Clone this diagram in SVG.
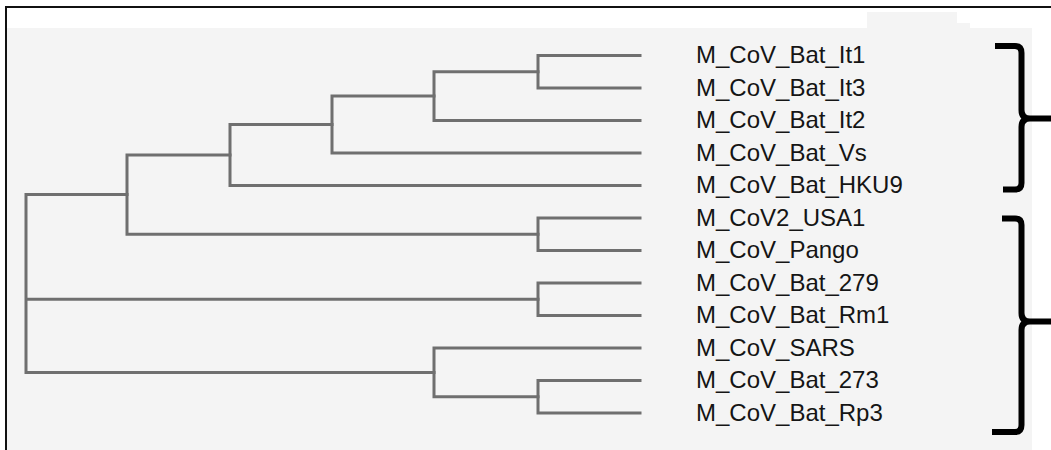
<svg xmlns="http://www.w3.org/2000/svg" width="1051" height="450" viewBox="0 0 1051 450">
  <style>
    .br { fill: none; stroke: #6f6f6f; stroke-width: 3; stroke-linecap: square; }
    .lbl { font-family: "Liberation Sans", Arial, sans-serif; font-size: 24px; fill: #151515; }
    .brace { fill: none; stroke: #000; stroke-width: 6; stroke-linejoin: round; }
  </style>
  <rect x="0" y="0" width="1051" height="450" fill="#ffffff"/>
  <rect x="7" y="28" width="1025" height="422" fill="#f4f4f4"/>
  <rect x="867" y="12" width="90" height="16" fill="#f4f4f4"/>
  <rect x="957" y="23" width="13" height="5" fill="#f4f4f4"/>
  <path d="M6,450 V7 H1051" fill="none" stroke="#111" stroke-width="2"/>

  <g id="connectors">
    <path class="br" d="M538,55.5 H640 M538,88 H640 M538,55.5 V88"/>
    <path class="br" d="M434,71.75 H538 M434,120.5 H640 M434,71.75 V120.5"/>
    <path class="br" d="M332,96.1 H434 M332,153 H640 M332,96.1 V153"/>
    <path class="br" d="M230,124.6 H332 M230,185.5 H640 M230,124.6 V185.5"/>
    <path class="br" d="M538,218 H640 M538,250.5 H640 M538,218 V250.5"/>
    <path class="br" d="M127,155 H230 M127,234.25 H538 M127,155 V234.25"/>
    <path class="br" d="M538,283 H640 M538,315.5 H640 M538,283 V315.5"/>
    <path class="br" d="M538,380.5 H640 M538,413 H640 M538,380.5 V413"/>
    <path class="br" d="M434,348 H640 M434,396.75 H538 M434,348 V396.75"/>
    <path class="br" d="M26,194.6 H127 M26,299.25 H538 M26,372.4 H434 M26,194.6 V372.4"/>
  </g>

  <g id="leaf1"><text class="lbl" x="696" y="63">M_CoV_Bat_It1</text></g>
  <g id="leaf2"><text class="lbl" x="696" y="95.5">M_CoV_Bat_It3</text></g>
  <g id="leaf3"><text class="lbl" x="696" y="128">M_CoV_Bat_It2</text></g>
  <g id="leaf4"><text class="lbl" x="696" y="160.5">M_CoV_Bat_Vs</text></g>
  <g id="leaf5"><text class="lbl" x="696" y="193">M_CoV_Bat_HKU9</text></g>
  <g id="leaf6"><text class="lbl" x="696" y="225.5">M_CoV2_USA1</text></g>
  <g id="leaf7"><text class="lbl" x="696" y="258">M_CoV_Pango</text></g>
  <g id="leaf8"><text class="lbl" x="696" y="290.5">M_CoV_Bat_279</text></g>
  <g id="leaf9"><text class="lbl" x="696" y="323">M_CoV_Bat_Rm1</text></g>
  <g id="leaf10"><text class="lbl" x="696" y="355.5">M_CoV_SARS</text></g>
  <g id="leaf11"><text class="lbl" x="696" y="388">M_CoV_Bat_273</text></g>
  <g id="leaf12"><text class="lbl" x="696" y="420.5">M_CoV_Bat_Rp3</text></g>

  <g id="brace-upper">
    <path class="brace" d="M995,46 H1015 Q1021.5,46 1021.5,53 V110 Q1021.5,118.5 1030,118.5 H1051 M1030,118.5 Q1021.5,118.5 1021.5,127 V183 Q1021.5,189.5 1015,189.5 H1003"/>
  </g>
  <g id="brace-lower">
    <path class="brace" d="M1002,218.5 H1015 Q1021.5,218.5 1021.5,225 V313 Q1021.5,321.5 1030,321.5 H1051 M1030,321.5 Q1021.5,321.5 1021.5,330 V425 Q1021.5,432 1015,432 H992"/>
  </g>
</svg>
